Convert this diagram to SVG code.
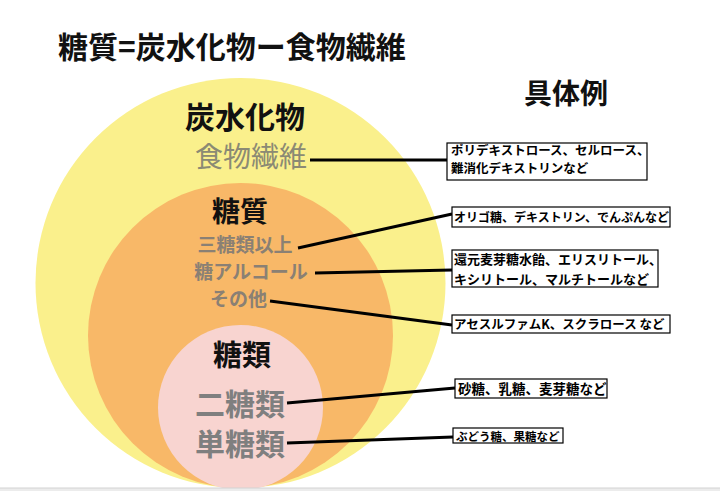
<svg xmlns="http://www.w3.org/2000/svg" width="720" height="491" viewBox="0 0 720 491">
  <style>
    text { font-family: "Noto Sans CJK JP", "Noto Sans", sans-serif; }
    .h { font-weight: bold; fill: #111; }
    .g { font-weight: bold; }
    .box { fill: #fff; stroke: #000; stroke-width: 1.2; }
    .bt { font-weight: bold; fill: #000; }
    .conn line { stroke: #000; stroke-width: 3; stroke-linecap: butt; }
  </style>
  <rect width="720" height="491" fill="#fff"/>
  <text id="title" class="h" x="58" y="58" font-size="30">糖質=炭水化物ー食物繊維</text>
  <text id="examples-title" class="h" x="524" y="104" font-size="28">具体例</text>

  <g id="carbohydrate">
    <circle cx="240.5" cy="283" r="205" fill="#FAF08C"/>
    <text class="h" x="245" y="128" font-size="30" text-anchor="middle">炭水化物</text>
    <text x="251" y="167" font-size="28" text-anchor="middle" fill="#8b8a74">食物繊維</text>
  </g>
  <g id="sugar-quality">
    <circle cx="240.5" cy="335.5" r="152.5" fill="#F8B868"/>
    <text class="h" x="240" y="222" font-size="28" text-anchor="middle">糖質</text>
    <text class="g" x="245" y="252" font-size="19" text-anchor="middle" fill="#8a8074">三糖類以上</text>
    <text class="g" x="251" y="279" font-size="19" text-anchor="middle" fill="#8a8074">糖アルコール</text>
    <text class="g" x="238.5" y="306" font-size="19" text-anchor="middle" fill="#8a8074">その他</text>
  </g>
  <g id="sugars">
    <circle cx="240.5" cy="407.5" r="82.5" fill="#F8D4D0"/>
    <text class="h" x="242" y="366" font-size="29" text-anchor="middle">糖類</text>
    <text class="g" x="240" y="415" font-size="30" text-anchor="middle" fill="#7f7f7f">二糖類</text>
    <text class="g" x="240" y="455" font-size="30" text-anchor="middle" fill="#7f7f7f">単糖類</text>
  </g>

  <g id="bottom-edge">
    <rect x="0" y="488" width="720" height="3" fill="#ececec"/>
    <line x1="0" y1="488" x2="720" y2="488" stroke="#d2d2d2" stroke-width="1"/>
  </g>

  <g id="connectors" class="conn">
    <line x1="310" y1="160" x2="447" y2="160"/>
    <line x1="298" y1="248" x2="452" y2="214"/>
    <line x1="315" y1="273" x2="452" y2="270"/>
    <line x1="270" y1="301" x2="452" y2="325"/>
    <line x1="287" y1="403" x2="455" y2="388"/>
    <line x1="287" y1="443" x2="453" y2="437"/>
  </g>

  <g id="ex-fiber">
    <rect class="box" x="447" y="143" width="200" height="37"/>
    <text class="bt" x="451" y="155" font-size="12.5">ポリデキストロース、セルロース、</text>
    <text class="bt" x="451" y="173" font-size="12.5">難消化デキストリンなど</text>
  </g>
  <g id="ex-tri">
    <rect class="box" x="452" y="207" width="218" height="20"/>
    <text class="bt" x="454" y="222" font-size="12">オリゴ糖、デキストリン、でんぷんなど</text>
  </g>
  <g id="ex-alcohol">
    <rect class="box" x="452" y="250" width="206" height="37"/>
    <text class="bt" x="454" y="264" font-size="13">還元麦芽糖水飴、エリスリトール、</text>
    <text class="bt" x="454" y="284" font-size="13">キシリトール、マルチトールなど</text>
  </g>
  <g id="ex-other">
    <rect class="box" x="452" y="315" width="218" height="18"/>
    <text class="bt" x="454" y="329" font-size="12.5">アセスルファムK、スクラロース など</text>
  </g>
  <g id="ex-di">
    <rect class="box" x="455" y="379" width="152" height="19"/>
    <text class="bt" x="458" y="394" font-size="13.5">砂糖、乳糖、麦芽糖など</text>
  </g>
  <g id="ex-mono">
    <rect class="box" x="453" y="428" width="110" height="15"/>
    <text class="bt" x="456" y="440.5" font-size="11.5">ぶどう糖、果糖など</text>
  </g>
</svg>
